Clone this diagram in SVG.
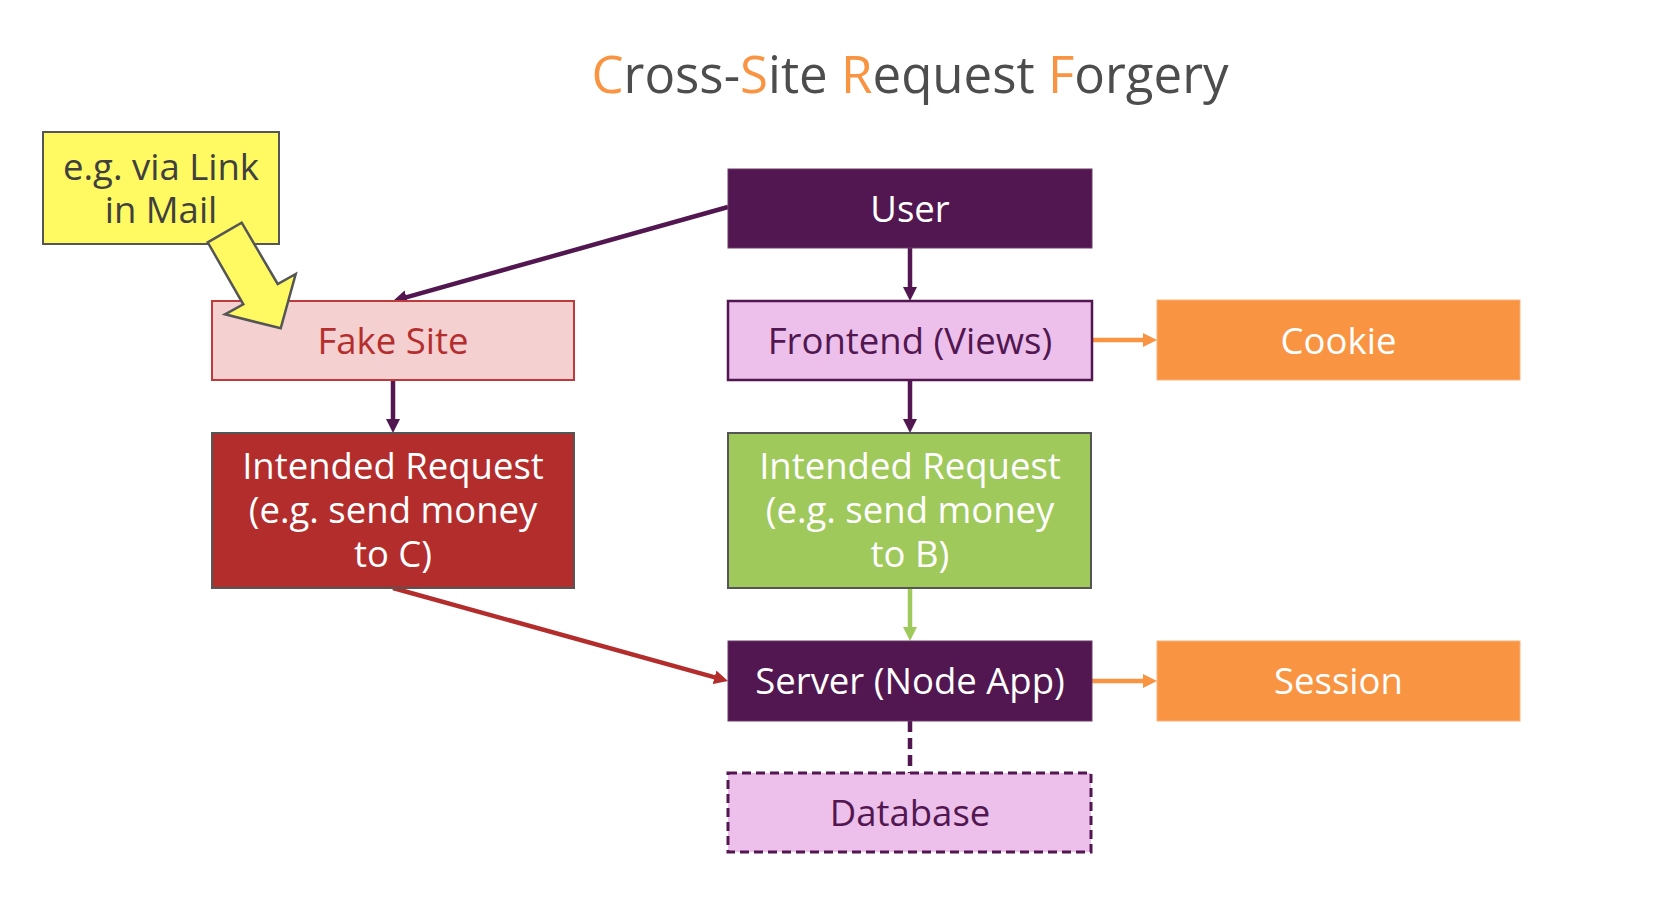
<svg xmlns="http://www.w3.org/2000/svg" width="1670" height="918" viewBox="0 0 1670 918">
<style>
text{font-family:"Open Sans","Noto Sans","Liberation Sans",sans-serif;text-anchor:middle}
.lbl{font-size:36.5px}
.title{font-size:51px;fill:#4d4d4d}
.acc{fill:#f99442}
.w{fill:#ffffff}
.purple{fill:#521751}
.conn{fill:none;stroke-width:4.5}
</style>
<defs>
<marker id="ahP" viewBox="0 0 14 14" markerWidth="14" markerHeight="14" refX="6" refY="7" orient="auto" markerUnits="userSpaceOnUse"><path d="M0,0 L14,7 L0,14 z" fill="#521751"/></marker>
<marker id="ahO" viewBox="0 0 14 14" markerWidth="14" markerHeight="14" refX="6" refY="7" orient="auto" markerUnits="userSpaceOnUse"><path d="M0,0 L14,7 L0,14 z" fill="#f99442"/></marker>
<marker id="ahG" viewBox="0 0 14 14" markerWidth="14" markerHeight="14" refX="6" refY="7" orient="auto" markerUnits="userSpaceOnUse"><path d="M0,0 L14,7 L0,14 z" fill="#a0c95c"/></marker>
<marker id="ahR" viewBox="0 0 14 14" markerWidth="14" markerHeight="14" refX="6" refY="7" orient="auto" markerUnits="userSpaceOnUse"><path d="M0,0 L14,7 L0,14 z" fill="#b32d2d"/></marker>
</defs>
<rect width="1670" height="918" fill="#ffffff"/>
<text class="title" x="910" y="93"><tspan class="acc">C</tspan>ross-<tspan class="acc">S</tspan>ite <tspan class="acc">R</tspan>equest <tspan class="acc">F</tspan>orgery</text>

<g id="connectors">
<line class="conn" x1="728" y1="207" x2="400.7" y2="298.8" stroke="#521751" marker-end="url(#ahP)"/>
<line class="conn" x1="910" y1="248" x2="910" y2="293" stroke="#521751" marker-end="url(#ahP)"/>
<line class="conn" x1="910" y1="380" x2="910" y2="425" stroke="#521751" marker-end="url(#ahP)"/>
<line class="conn" x1="393" y1="380" x2="393" y2="425" stroke="#521751" marker-end="url(#ahP)"/>
<line class="conn" x1="910" y1="588" x2="910" y2="633" stroke="#a0c95c" marker-end="url(#ahG)"/>
<line class="conn" x1="1092" y1="340" x2="1149" y2="340" stroke="#f99442" marker-end="url(#ahO)"/>
<line class="conn" x1="1092" y1="681" x2="1149" y2="681" stroke="#f99442" marker-end="url(#ahO)"/>
<line class="conn" x1="393" y1="588" x2="720.3" y2="678.9" stroke="#b32d2d" marker-end="url(#ahR)"/>
<line class="conn" x1="910" y1="721" x2="910" y2="773" stroke="#521751" stroke-dasharray="11 6"/>
</g>

<g id="user">
<rect x="728" y="169" width="364" height="79" fill="#521751" stroke="#6b3a6a" stroke-width="1"/>
<text class="lbl w" x="910" y="222">User</text>
</g>
<g id="frontend">
<rect x="728" y="301" width="364" height="79" fill="#ecc0ea" stroke="#521751" stroke-width="2.5"/>
<text class="lbl purple" x="910" y="354">Frontend (Views)</text>
</g>
<g id="cookie">
<rect x="1157" y="300" width="363" height="80" fill="#f99442" stroke="#fbb27a" stroke-width="1"/>
<text class="lbl w" x="1338.5" y="353.5">Cookie</text>
</g>
<g id="fake-site">
<rect x="212" y="301" width="362" height="79" fill="#f4d0d0" stroke="#c0393b" stroke-width="2"/>
<text class="lbl" x="393" y="354" fill="#b52e2e">Fake Site</text>
</g>
<g id="intended-c">
<rect x="212" y="433" width="362" height="155" fill="#b32d2d" stroke="#555555" stroke-width="2"/>
<text class="lbl w" x="393" y="479"><tspan x="393">Intended Request</tspan><tspan x="393" dy="44">(e.g. send money</tspan><tspan x="393" dy="44">to C)</tspan></text>
</g>
<g id="intended-b">
<rect x="728" y="433" width="363" height="155" fill="#a0c95c" stroke="#555555" stroke-width="2"/>
<text class="lbl w" x="910" y="479"><tspan x="910">Intended Request</tspan><tspan x="910" dy="44">(e.g. send money</tspan><tspan x="910" dy="44">to B)</tspan></text>
</g>
<g id="server">
<rect x="728" y="641" width="364" height="80" fill="#521751" stroke="#6b3a6a" stroke-width="1"/>
<text class="lbl w" x="910" y="694">Server (Node App)</text>
</g>
<g id="session">
<rect x="1157" y="641" width="363" height="80" fill="#f99442" stroke="#fbb27a" stroke-width="1"/>
<text class="lbl w" x="1338.5" y="694">Session</text>
</g>
<g id="database">
<rect x="728" y="773" width="363" height="79" fill="#ecc0ea" stroke="#521751" stroke-width="3" stroke-dasharray="9 5"/>
<text class="lbl purple" x="910" y="826">Database</text>
</g>
<g id="note">
<rect x="43" y="132" width="236" height="112" fill="#fffa62" stroke="#555555" stroke-width="2"/>
<text class="lbl" x="161" y="180" fill="#404040"><tspan x="161">e.g. via Link</tspan><tspan x="161" dy="43">in Mail</tspan></text>
<polygon points="207.7,242.3 241.7,222.7 277.7,284 295.7,274 280.7,328.3 225,314.3 243.3,304.3" fill="#fffa62" stroke="#555555" stroke-width="2.5" stroke-linejoin="miter"/>
</g>
</svg>
